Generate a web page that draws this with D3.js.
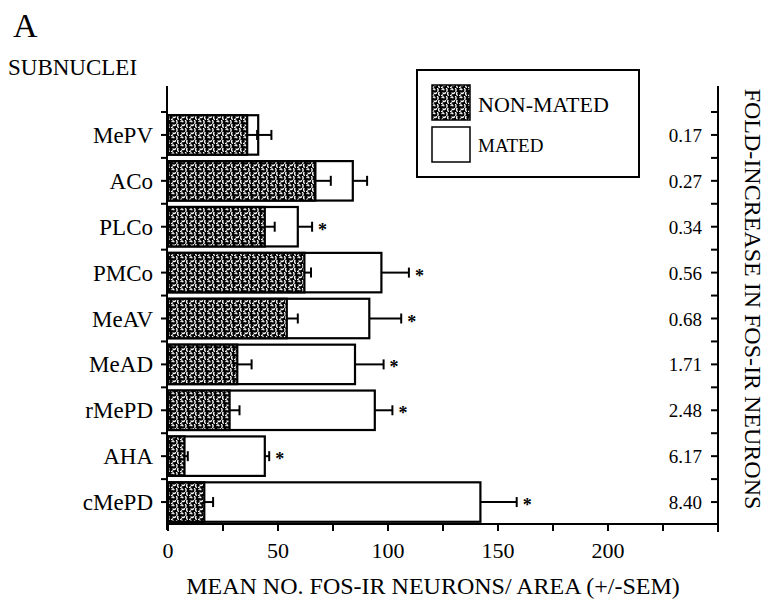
<!DOCTYPE html>
<html>
<head>
<meta charset="utf-8">
<script src="https://cdnjs.cloudflare.com/ajax/libs/d3/7.8.5/d3.min.js"></script>
<style>
  body { margin: 0; background: #fff; }
  svg text { font-family: "Liberation Serif", "Times New Roman", serif; fill: #000; }
</style>
</head>
<body>
<div id="chart"></div>
<script>
// values
const categories = ["MePV", "ACo", "PLCo", "PMCo", "MeAV", "MeAD", "rMePD", "AHA", "cMePD"];
const nonMated = [36, 67, 44, 62, 54, 31.5, 28, 7.5, 16.5];
const nonMatedSem = [4.5, 7, 4.5, 3, 5, 6.5, 4.5, 1.5, 4];
const mated = [41, 84, 59, 97, 91.5, 85, 94, 44, 142];
const matedSem = [6, 6.5, 6.5, 12.5, 14.5, 13, 8, 2, 16.5];
const foldIncrease = ["0.17", "0.27", "0.34", "0.56", "0.68", "1.71", "2.48", "6.17", "8.40"];
const significant = [false, false, true, true, true, true, true, true, true];
const xTicks = [0, 50, 100, 150, 200];
const xMinorTicks = [0, 25, 50, 75, 100, 125, 150, 175, 200, 225, 250];

const width = 769, height = 601;
const rows = categories.map((c, i) => ({
  cat: c, non: nonMated[i], nonSem: nonMatedSem[i],
  mated: mated[i], matedSem: matedSem[i], fold: foldIncrease[i], sig: significant[i]
}));

const svg = d3.select("#chart").append("svg")
  .attr("width", width)
  .attr("height", height);

// stipple pattern for the non-mated bars
const pat = svg.append("defs").append("pattern")
  .attr("id", "stipple")
  .attr("patternUnits", "userSpaceOnUse")
  .attr("width", 9)
  .attr("height", 8);
pat.append("rect").attr("width", 9).attr("height", 8).attr("fill", "#000");
pat.selectAll("path")
  .data(["M1,1.5 q1,-1.3 2,0.3", "M5.5,0.5 q1.2,1.2 0.2,2.8", "M2,5 q1.3,1 2.6,-0.2", "M7,4.5 q-1,1.4 0.3,2.8", "M0.5,7.5 l1.2,-0.6"])
  .enter().append("path")
  .attr("d", d => d)
  .attr("fill", "none")
  .attr("stroke", "#fff")
  .attr("stroke-width", 1.3)
  .attr("stroke-linecap", "round");

const x = d3.scaleLinear().domain([0, 250]).range([168, 718]);
const y = d3.scaleBand().domain(categories).range([112, 525]).paddingInner(0.14).paddingOuter(0.07);
const bh = y.bandwidth();
const yc = c => y(c) + bh / 2;

const axisLeftX = 167, axisRightX = 718, axisBottomY = 524, axisTopY = 86;

// mated bars (white) behind non-mated bars
svg.append("g").selectAll("rect")
  .data(rows).enter().append("rect")
  .attr("x", x(0))
  .attr("y", d => y(d.cat))
  .attr("width", d => x(d.mated) - x(0))
  .attr("height", bh)
  .attr("fill", "#fff")
  .attr("stroke", "#000")
  .attr("stroke-width", 2.2);

svg.append("g").selectAll("rect")
  .data(rows).enter().append("rect")
  .attr("x", x(0))
  .attr("y", d => y(d.cat))
  .attr("width", d => x(d.non) - x(0))
  .attr("height", bh)
  .attr("fill", "url(#stipple)")
  .attr("stroke", "#000")
  .attr("stroke-width", 2.2);

// error bars
function errorBars(key, semKey) {
  const g = svg.append("g").attr("stroke", "#000").attr("stroke-width", 2);
  g.selectAll("line.e")
    .data(rows).enter().append("line")
    .attr("x1", d => x(d[key]))
    .attr("x2", d => x(d[key] + d[semKey]))
    .attr("y1", d => yc(d.cat))
    .attr("y2", d => yc(d.cat));
  g.selectAll("line.c")
    .data(rows).enter().append("line")
    .attr("x1", d => x(d[key] + d[semKey]))
    .attr("x2", d => x(d[key] + d[semKey]))
    .attr("y1", d => yc(d.cat) - 5)
    .attr("y2", d => yc(d.cat) + 5);
}
errorBars("non", "nonSem");
errorBars("mated", "matedSem");

// significance stars
svg.append("g").selectAll("text")
  .data(rows.filter(d => d.sig)).enter().append("text")
  .attr("x", d => x(d.mated + d.matedSem) + 6)
  .attr("y", d => yc(d.cat) + 9)
  .attr("font-size", 18)
  .attr("font-weight", "bold")
  .text("*");

// axes frame
const frame = svg.append("g").attr("stroke", "#000").attr("stroke-width", 2);
frame.append("line").attr("x1", axisLeftX).attr("x2", axisLeftX).attr("y1", axisTopY).attr("y2", 530);
frame.append("line").attr("x1", axisRightX).attr("x2", axisRightX).attr("y1", axisTopY).attr("y2", 532);
frame.append("line").attr("x1", axisLeftX).attr("x2", axisRightX).attr("y1", axisBottomY).attr("y2", axisBottomY);

// category ticks: at centres and band boundaries
const yTickPos = [];
categories.forEach(c => {
  yTickPos.push(y(c) - y.step() * y.paddingInner() / 2);
  yTickPos.push(yc(c));
});
frame.selectAll("line.lt")
  .data(yTickPos).enter().append("line")
  .attr("x1", axisLeftX - 6).attr("x2", axisLeftX)
  .attr("y1", d => d).attr("y2", d => d);
frame.selectAll("line.rt")
  .data(yTickPos).enter().append("line")
  .attr("x1", axisRightX - 7).attr("x2", axisRightX)
  .attr("y1", d => d).attr("y2", d => d);

// bottom ticks
frame.selectAll("line.bt")
  .data(xMinorTicks).enter().append("line")
  .attr("x1", d => x(d)).attr("x2", d => x(d))
  .attr("y1", axisBottomY).attr("y2", axisBottomY + 7);

svg.append("g").selectAll("text")
  .data(xTicks).enter().append("text")
  .attr("x", d => x(d))
  .attr("y", 558)
  .attr("text-anchor", "middle")
  .attr("font-size", 22)
  .text(d => d);

// category labels
svg.append("g").selectAll("text")
  .data(categories).enter().append("text")
  .attr("x", 153)
  .attr("y", d => yc(d) + 8)
  .attr("text-anchor", "end")
  .attr("font-size", 23)
  .text(d => d);

// fold increase labels
svg.append("g").selectAll("text")
  .data(rows).enter().append("text")
  .attr("x", 702)
  .attr("y", d => yc(d.cat) + 7)
  .attr("text-anchor", "end")
  .attr("font-size", 19)
  .text(d => d.fold);

// legend
const lg = svg.append("g");
lg.append("rect").attr("x", 417).attr("y", 70).attr("width", 222).attr("height", 107)
  .attr("fill", "#fff").attr("stroke", "#000").attr("stroke-width", 2);
lg.append("rect").attr("x", 432).attr("y", 85).attr("width", 38).attr("height", 35)
  .attr("fill", "url(#stipple)").attr("stroke", "#000").attr("stroke-width", 1.5);
lg.append("rect").attr("x", 432).attr("y", 127).attr("width", 38).attr("height", 35)
  .attr("fill", "#fff").attr("stroke", "#000").attr("stroke-width", 1.5);
lg.append("text").attr("x", 478).attr("y", 112).attr("font-size", 22).text("NON-MATED");
lg.append("text").attr("x", 478).attr("y", 152).attr("font-size", 19).text("MATED");

// titles
svg.append("text").attr("x", 13).attr("y", 37).attr("font-size", 34).text("A");
svg.append("text").attr("x", 8).attr("y", 75).attr("font-size", 23).text("SUBNUCLEI");
svg.append("text").attr("x", 433).attr("y", 594).attr("text-anchor", "middle")
  .attr("font-size", 24).text("MEAN NO. FOS-IR NEURONS/ AREA (+/-SEM)");
svg.append("text")
  .attr("transform", "translate(745,299) rotate(90)")
  .attr("text-anchor", "middle")
  .attr("font-size", 24)
  .text("FOLD-INCREASE IN FOS-IR NEURONS");
</script>
</body>
</html>
